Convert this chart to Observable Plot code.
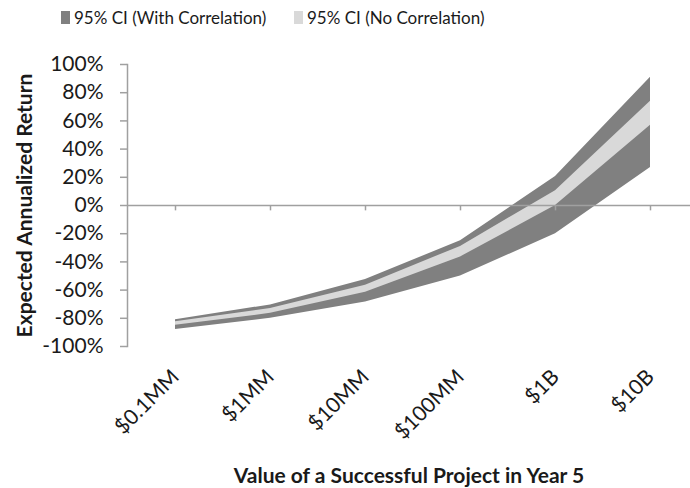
<!DOCTYPE html>
<html>
<head>
<meta charset="utf-8">
<script src="https://cdn.jsdelivr.net/npm/d3@7"></script>
<script src="https://cdn.jsdelivr.net/npm/@observablehq/plot@0.6"></script>
<style>
  body { margin: 0; background: #fff; font-family: Lato, "Liberation Sans", sans-serif; }
  #legend { position: relative; height: 40px; width: 690px; font-size: 17px; color: #1a1a1a; }
  .item { position: absolute; top: 7px; display: flex; align-items: center; }
  .sw { width: 9px; height: 13px; margin-right: 4px; }
</style>
</head>
<body>
<div id="legend">
  <div class="item" style="left:61px"><span class="sw" style="background:#808080"></span><span>95% CI (With Correlation)</span></div>
  <div class="item" style="left:294px"><span class="sw" style="background:#d9d9d9"></span><span>95% CI (No Correlation)</span></div>
</div>
<div id="chart"></div>
<script>
const categories = ["$0.1MM", "$1MM", "$10MM", "$100MM", "$1B", "$10B"];
const corrLow  = [-88, -80, -68.5, -50, -20, 27];
const corrHigh = [-81, -70.5, -52.5, -25, 20.5, 91];
const noLow    = [-85, -76.5, -61.5, -36.5, 0, 57];
const noHigh   = [-82.5, -73, -56.5, -29, 10.5, 74];
const yTicks = [-100, -80, -60, -40, -20, 0, 20, 40, 60, 80, 100];

const data = categories.map((c, i) => ({
  cat: c, corrLow: corrLow[i], corrHigh: corrHigh[i], noLow: noLow[i], noHigh: noHigh[i]
}));

const chart = Plot.plot({
  width: 690,
  height: 448,
  marginTop: 24,
  marginBottom: 142,
  marginLeft: 127,
  marginRight: 0,
  style: { fontFamily: "Lato, 'Liberation Sans', sans-serif", color: "#1a1a1a", background: "#fff" },
  x: { type: "point", domain: categories, range: [125, 699], padding: 0.5 },
  y: { domain: [-100, 100] },
  marks: [
    Plot.areaY(data, { x: "cat", y1: "corrLow", y2: "corrHigh", fill: "#808080" }),
    Plot.areaY(data, { x: "cat", y1: "noLow", y2: "noHigh", fill: "#d9d9d9" }),
    Plot.ruleY([0], { stroke: "#a0a0a0", strokeWidth: 1.5 }),
    Plot.ruleX(categories, { x: d => d, y1: 0, y2: -3.8, stroke: "#a0a0a0", strokeWidth: 1.5 }),
    Plot.frame({ anchor: "left", stroke: "#a0a0a0", strokeWidth: 1.5 }),
    Plot.axisY({
      ticks: yTicks, tickFormat: d => d + "%", tickSize: 7, tickPadding: 17,
      stroke: "#a0a0a0", strokeWidth: 1.5, fontSize: 21,
      label: "Expected Annualized Return", labelAnchor: "center", labelOffset: 110
    }),
    Plot.axisX({
      tickSize: 0, tickRotate: -45, tickPadding: 27, fontSize: 21,
      label: null
    }),
    Plot.axisX({
      ticks: [], tickSize: 0,
      label: "Value of a Successful Project in Year 5", labelAnchor: "center", labelOffset: 136
    })
  ]
});
document.getElementById("chart").appendChild(chart);

chart.querySelectorAll("g[aria-label='y-axis label'] text, g[aria-label='x-axis label'] text").forEach(t => {
  t.textContent = t.textContent.replace(/\s*[↑→↓←]\s*/g, "");
  t.style.fontWeight = "bold";
  t.style.fontSize = "21px";
});
</script>
</body>
</html>
